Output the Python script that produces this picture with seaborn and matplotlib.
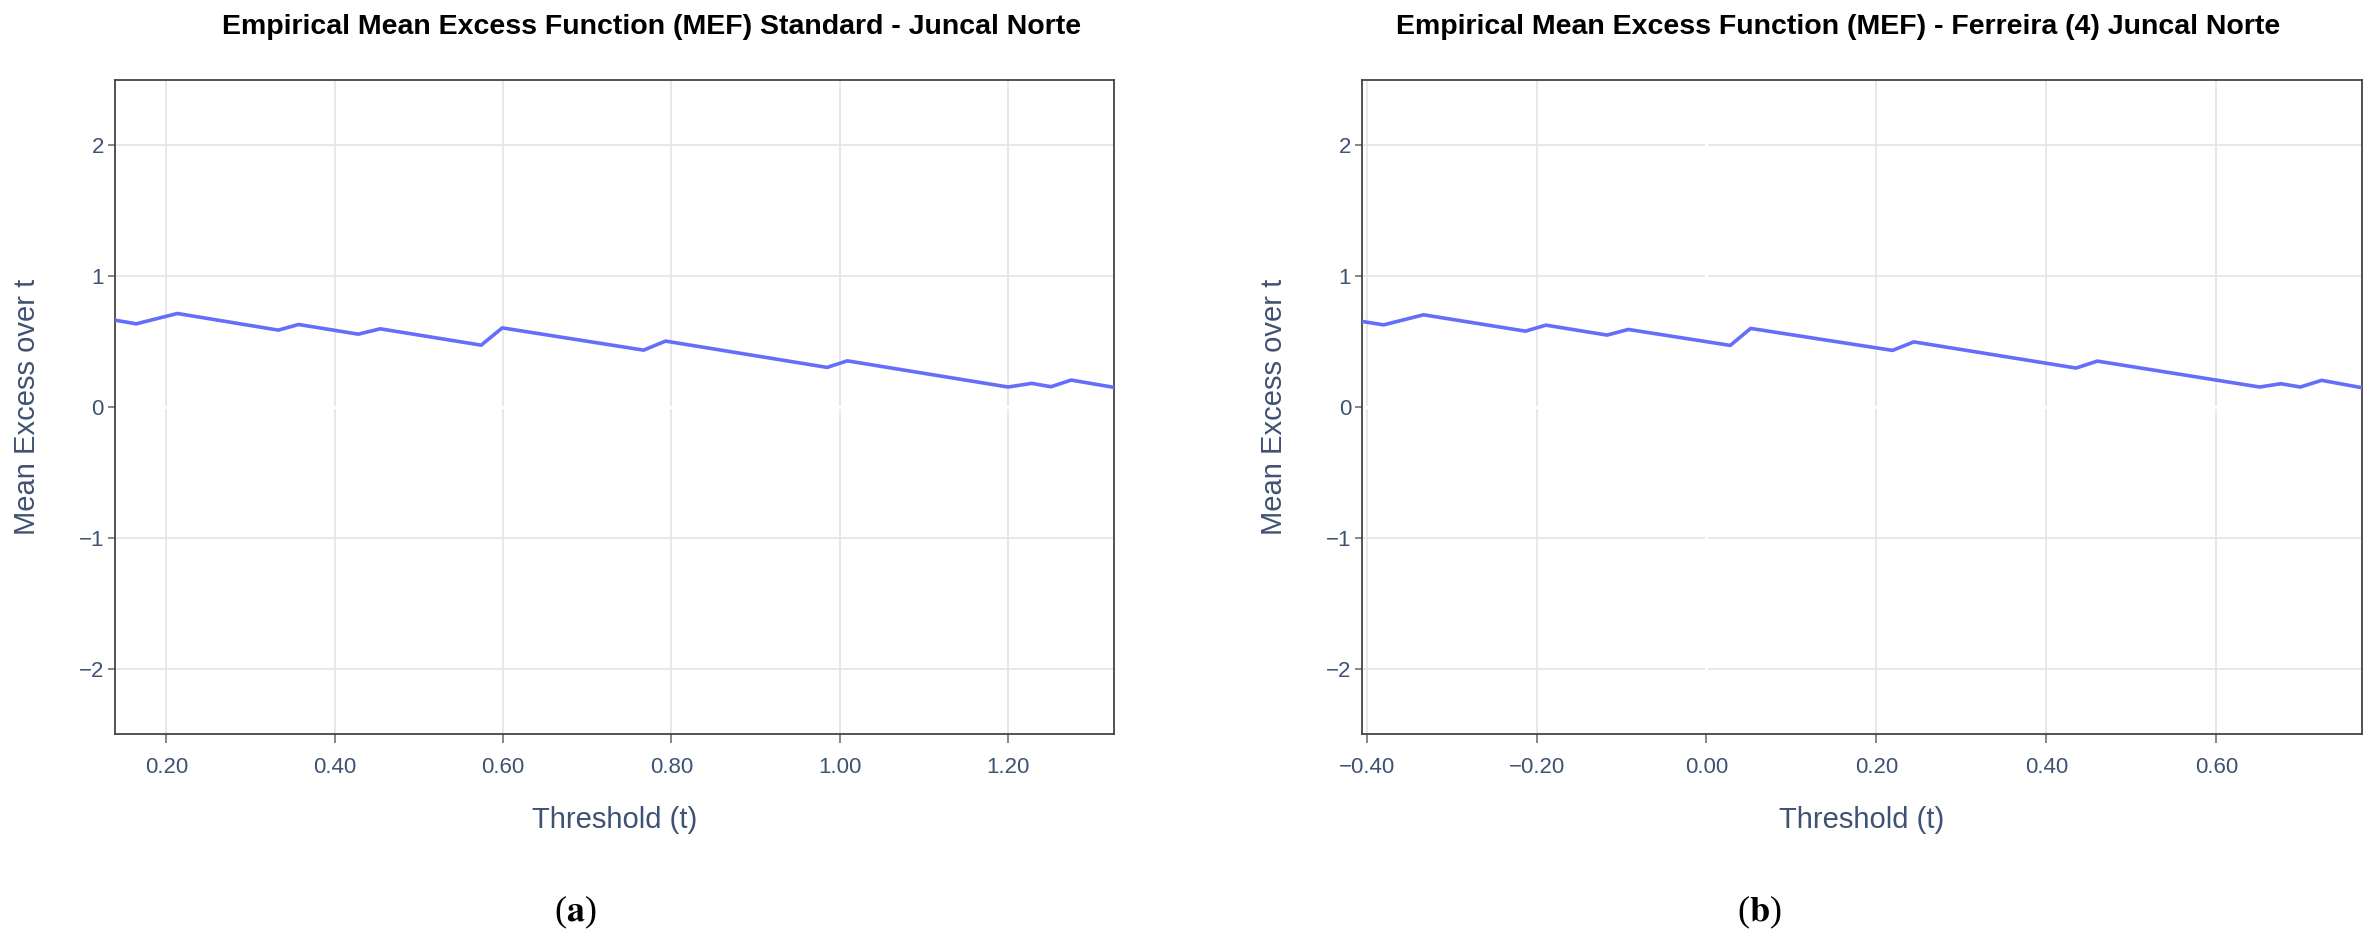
import matplotlib.pyplot as plt
import pandas as pd
import seaborn as sns
from matplotlib.ticker import FuncFormatter, MultipleLocator

# Values
threshold_std = [0.139, 0.164, 0.213, 0.333, 0.357, 0.428, 0.454, 0.574, 0.599,
                 0.767, 0.793, 0.985, 1.009, 1.200, 1.228, 1.251, 1.275, 1.326]
mef_std = [0.664, 0.636, 0.715, 0.588, 0.631, 0.557, 0.598, 0.473, 0.605,
           0.435, 0.504, 0.303, 0.353, 0.153, 0.181, 0.155, 0.206, 0.150]

threshold_fer = [-0.405, -0.380, -0.333, -0.213, -0.189, -0.117, -0.092, 0.028, 0.052,
                 0.219, 0.244, 0.435, 0.460, 0.651, 0.676, 0.699, 0.724, 0.772]
mef_fer = [0.654, 0.628, 0.705, 0.580, 0.626, 0.550, 0.593, 0.471, 0.601,
           0.433, 0.498, 0.298, 0.351, 0.153, 0.178, 0.153, 0.204, 0.147]

titles = ['Empirical Mean Excess Function (MEF) Standard - Juncal Norte',
          'Empirical Mean Excess Function (MEF) - Ferreira (4) Juncal Norte']
panel_labels = ['a', 'b']
xlims = [(0.139, 1.326), (-0.4053, 0.7716)]
y_ticks = [-2, -1, 0, 1, 2]

sns.set_style('white')
plt.rcParams['font.family'] = ['Liberation Sans', 'DejaVu Sans']
plt.rcParams['mathtext.fontset'] = 'stix'

text_col = '#3f5273'
line_col = '#636efa'

fig = plt.figure(figsize=(23.78, 9.48), dpi=100)
ax1 = fig.add_axes([0.0484, 0.2257, 0.4201, 0.6899])
ax2 = fig.add_axes([0.5728, 0.2257, 0.4205, 0.6899])

frames = [pd.DataFrame({'t': threshold_std, 'mef': mef_std}),
          pd.DataFrame({'t': threshold_fer, 'mef': mef_fer})]


def minus_fmt(decimals):
    return FuncFormatter(lambda v, p: f'{v:.{decimals}f}'.replace('-', '\u2212'))


for ax, df, xl in zip([ax1, ax2], frames, xlims):
    ax.grid(True, color='#e4e4e4', linewidth=1.2, zorder=0)
    ax.axhline(0, color='white', linewidth=2.2, zorder=1)
    if xl[0] < 0 < xl[1]:
        ax.axvline(0, color='white', linewidth=2.2, zorder=1)
    sns.lineplot(data=df, x='t', y='mef', ax=ax, color=line_col, linewidth=2.6,
                 zorder=3, legend=False)
    ax.set_xlim(*xl)
    ax.set_ylim(-2.5, 2.5)
    ax.set_yticks(y_ticks)
    ax.xaxis.set_major_locator(MultipleLocator(0.2))
    ax.xaxis.set_major_formatter(minus_fmt(2))
    ax.yaxis.set_major_formatter(minus_fmt(0))
    ax.set_axisbelow(True)
    for s in ax.spines.values():
        s.set_color('#444444')
        s.set_linewidth(1.3)
    ax.tick_params(axis='x', direction='out', length=6.5, width=1.1, color='#666666',
                   labelsize=16, labelcolor=text_col, pad=10, bottom=True)
    ax.tick_params(axis='y', direction='out', length=5, width=1.1, color='#666666',
                   labelsize=16, labelcolor=text_col, pad=3, left=True)
    ax.set_xlabel('Threshold (t)', fontsize=21, color=text_col, labelpad=20)
    ax.set_ylabel('Mean Excess over t', fontsize=21, color=text_col)
    ax.yaxis.set_label_coords(-0.074, 0.5)

fig.text(0.274, 0.971, titles[0], ha='center', va='center', fontsize=20.5,
         fontweight='bold', color='black')
fig.text(0.773, 0.971, titles[1], ha='center', va='center', fontsize=20.5,
         fontweight='bold', color='black')

for xpos, lab in zip([0.242, 0.740], panel_labels):
    fig.text(xpos, 0.038, r'($\mathbf{' + lab + '}$)', ha='center', va='center',
             fontsize=26, family='Liberation Serif', color='black')

fig.savefig('out.png', dpi=100, facecolor='white')
